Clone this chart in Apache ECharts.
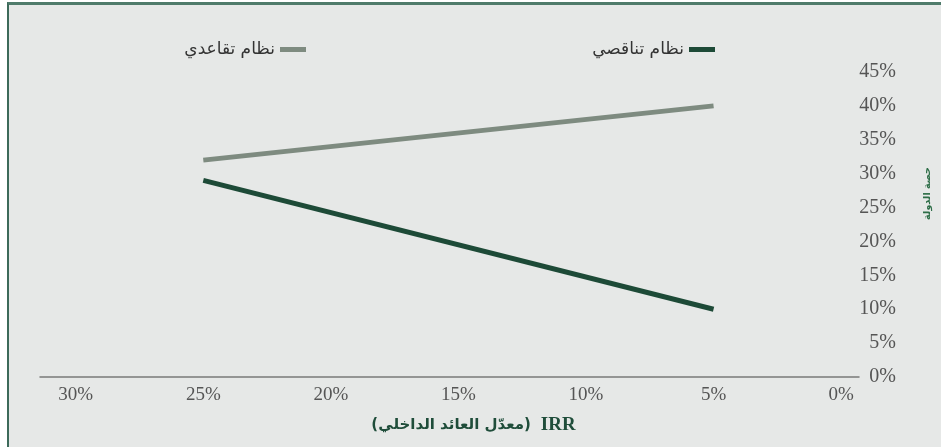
<!DOCTYPE html>
<html>
<head>
<meta charset="utf-8">
<script src="https://cdn.jsdelivr.net/npm/echarts@6/dist/echarts.min.js"></script>
<style>
html,body{margin:0;padding:0;background:#ffffff;}
#frame{position:absolute;left:7px;top:2px;width:934px;height:445px;box-sizing:border-box;background:#e6e8e7;border-left:2px solid #3d6a5a;border-top:3px solid #4f7b6b;}
#chart{position:absolute;left:0;top:0;width:941px;height:447px;}
</style>
</head>
<body>
<div id="frame"></div>
<div id="chart"></div>
<script>
// Data
var xTicks = [0, 5, 10, 15, 20, 25, 30];           // IRR tick values (%)
var seriesNames = ['نظام تناقصي', 'نظام تقاعدي'];
var irrPoints = [25, 5];                             // IRR (%) of each point
var decliningValues = [29, 10];                      // نظام تناقصي (%)
var progressiveValues = [32, 40];                    // نظام تقاعدي (%)

function pairs(xs, ys){ return xs.map(function(x,i){ return [x, ys[i]]; }); }

var chart = echarts.init(document.getElementById('chart'), null, {renderer:'canvas'});
var tickFont = 'Liberation Serif';
var legendText = {fontFamily: 'DejaVu Sans', fontSize: 17, color: '#333'};
chart.setOption({
  backgroundColor: 'transparent',
  animation: false,
  grid: {left: 40, right: 74, top: 72, bottom: 70, containLabel: false},
  legend: [
    {data: [seriesNames[0]], right: 221, top: 36, align: 'right', icon: 'rect', itemWidth: 26, itemHeight: 5, itemGap: 5,
     textStyle: legendText},
    {data: [seriesNames[1]], right: 630, top: 36, align: 'right', icon: 'rect', itemWidth: 26, itemHeight: 5, itemGap: 5,
     textStyle: legendText}
  ],
  xAxis: {
    type: 'value', inverse: true, min: -0.7, max: 31.4,
    axisLine: {show: true, lineStyle: {color: '#7a7a7a', width: 1.5}},
    axisTick: {show: false},
    splitLine: {show: false},
    axisLabel: {customValues: xTicks, formatter: '{value}%', margin: 9,
      fontFamily: tickFont, fontSize: 19, color: '#555'},
    name: '{a|(معدّل العائد الداخلي)}   {b|IRR}',
    nameLocation: 'middle', nameGap: 39,
    nameTextStyle: {padding: [0, 0, 0, 48], rich: {
      a: {fontFamily: 'DejaVu Sans', fontWeight: 'bold', fontSize: 15, color: '#1f4d3a'},
      b: {fontFamily: 'Liberation Serif', fontWeight: 'bold', fontSize: 19, color: '#1f4d3a'}
    }}
  },
  yAxis: {
    type: 'value', position: 'right', min: 0, max: 45, interval: 5,
    axisLine: {show: false}, axisTick: {show: false}, splitLine: {show: false},
    axisLabel: {formatter: '{value}%', align: 'right', margin: 37,
      fontFamily: tickFont, fontSize: 20, color: '#555'},
    name: 'حصة الدولة', nameLocation: 'middle', nameRotate: 90, nameGap: 64,
    nameTextStyle: {fontFamily: 'DejaVu Sans', fontWeight: 'bold', fontSize: 9.5, color: '#2e6e48',
      padding: [0, 0, 0, 62]}
  },
  series: [
    {name: seriesNames[0], type: 'line', data: pairs(irrPoints, decliningValues), showSymbol: false,
     lineStyle: {color: '#1d4a37', width: 5}, itemStyle: {color: '#1d4a37'}},
    {name: seriesNames[1], type: 'line', data: pairs(irrPoints, progressiveValues), showSymbol: false,
     lineStyle: {color: '#7e8b80', width: 5}, itemStyle: {color: '#7e8b80'}}
  ]
});
</script>
</body>
</html>
